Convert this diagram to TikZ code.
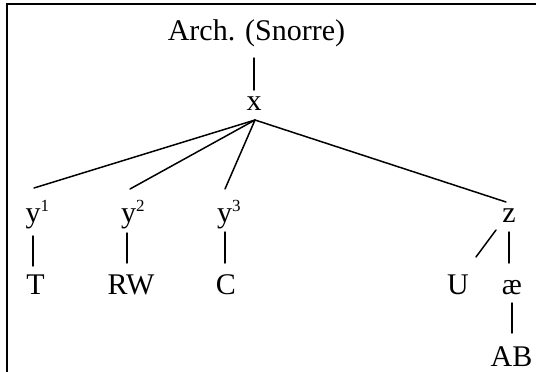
\documentclass[tikz,border=0pt]{standalone}
\usepackage{fontspec}
\setmainfont{Liberation Serif}
\newcommand\mysup[1]{\raisebox{11pt}{\fontsize{17}{17}\selectfont #1}}
\begin{document}
\begin{tikzpicture}[x=1pt,y=-1pt,
  lbl/.style={inner sep=0pt,outer sep=0pt,font=\fontsize{30}{36}\selectfont},
  edge/.style={line width=1.5pt,line cap=round},
  frame/.style={line width=2.2pt}]
\useasboundingbox (0,0) rectangle (536,372);
\draw[frame] (7,372) -- (7,4.3) -- (536,4.3);
\node[lbl,anchor=base] (arch) at (256.5,40) {Arch. (Snorre)};
\node[lbl,anchor=base] (x) at (254,110) {x};
\node[lbl,anchor=base west] (y1) at (25.5,222) {y\mysup{1}};
\node[lbl,anchor=base west] (y2) at (121,222) {y\mysup{2}};
\node[lbl,anchor=base west] (y3) at (217,222) {y\mysup{3}};
\node[lbl,anchor=base] (z) at (509,222) {z};
\node[lbl,anchor=base] (T) at (35.5,294) {T};
\node[lbl,anchor=base] (RW) at (131,294) {RW};
\node[lbl,anchor=base] (C) at (226,294) {C};
\node[lbl,anchor=base] (U) at (458,294) {U};
\node[lbl,anchor=base] (ae) at (512,294) {æ};
\node[lbl,anchor=base] (AB) at (511.5,366) {AB};
\draw[edge] ([xshift=-2.5pt,yshift=-18pt]arch.base) -- ([yshift=20pt]x.base);
\draw[edge] ([xshift=1pt,yshift=-10pt]x.base) -- ([xshift=8.5pt,yshift=34pt]y1.base west);
\draw[edge] ([xshift=1pt,yshift=-10pt]x.base) -- ([xshift=9pt,yshift=33pt]y2.base west);
\draw[edge] ([xshift=1pt,yshift=-10pt]x.base) -- ([xshift=8pt,yshift=33pt]y3.base west);
\draw[edge] ([xshift=1pt,yshift=-10pt]x.base) -- ([xshift=-3pt,yshift=20pt]z.base);
\draw[edge] ([xshift=7.5pt,yshift=-14pt]y1.base west) -- ([xshift=-2.5pt,yshift=28pt]T.base);
\draw[edge] ([xshift=6pt,yshift=-11pt]y2.base west) -- ([xshift=-4pt,yshift=31pt]RW.base);
\draw[edge] ([xshift=8pt,yshift=-10pt]y3.base west) -- ([xshift=-1pt,yshift=31pt]C.base);
\draw[edge] ([xshift=-13pt,yshift=-8pt]z.base) -- ([xshift=18pt,yshift=37pt]U.base);
\draw[edge] ([yshift=-10pt]z.base) -- ([xshift=-3pt,yshift=31pt]ae.base);
\draw[edge] ([yshift=-9pt]ae.base) -- ([xshift=0.5pt,yshift=33pt]AB.base);
\end{tikzpicture}
\end{document}
